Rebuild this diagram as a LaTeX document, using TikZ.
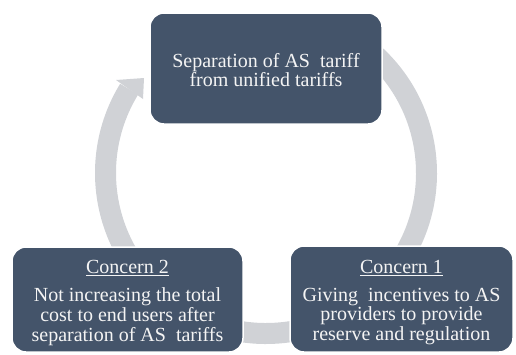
\documentclass[tikz,border=0pt]{standalone}
\usepackage{fontspec}
\setmainfont{Liberation Serif}
\definecolor{boxblue}{HTML}{44546A}
\definecolor{ringgray}{HTML}{D0D2D6}
\definecolor{txt}{HTML}{F4F4F4}
\begin{document}
\begin{tikzpicture}[x=1pt,y=-1pt,
  cyclebox/.style={rounded corners=14pt, fill=boxblue, draw=white, line width=1.5pt,
    text=txt, align=center, inner sep=0pt, font=\fontsize{20}{19.6}\selectfont},
  ringline/.style={draw=ringgray, line width=21pt},
  headtip/.style={fill=ringgray}]
\useasboundingbox (0,0) rectangle (516,354);
% ring
\begin{scope}[shift={(266,173)}, y=1pt]
  \draw[ringline] (50:160.5) arc[start angle=50, end angle=-211.5, radius=160.5];
\end{scope}
\coordinate (ho) at (116,80);
\coordinate (ht) at (144,78);
\coordinate (hi) at (143,99);
\fill[headtip] (ho) -- (ht) -- (hi) -- cycle;
% boxes
\node[cyclebox, minimum width=232pt, minimum height=111pt] (top) at (266,68.5)
  {\rule{0pt}{17pt}Separation of AS\ \ tariff\\from unified tariffs};
\node[cyclebox, minimum width=231pt, minimum height=105pt] (c2) at (127.5,299.5)
  {\rule{0pt}{20pt}\underline{Concern 2}\\[8.5pt]Not increasing the total\\cost to end users after\\separation of AS\ \ tariffs};
\node[cyclebox, minimum width=223pt, minimum height=106pt] (c1) at (401.5,299)
  {\rule{0pt}{20pt}\underline{Concern 1}\\[8.5pt]Giving\ \ incentives to AS\\providers to provide\\reserve and regulation};
\end{tikzpicture}
\end{document}
